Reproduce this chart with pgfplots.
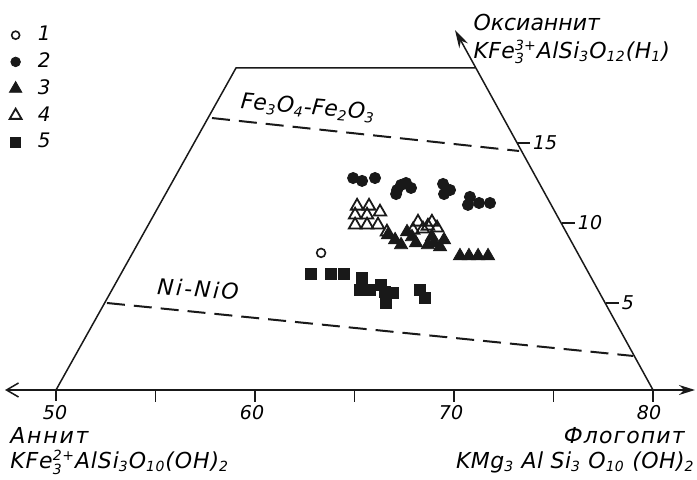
\documentclass[border=0pt]{standalone}
\usepackage{fontspec}
\setmainfont{DejaVu Sans}
\usepackage{pgfplots}
\pgfplotsset{compat=1.18}
\usetikzlibrary{arrows.meta}
\definecolor{ink}{gray}{0.1}
\newcommand{\chsub}[1]{$_{\hbox{\scriptsize #1}}$}
\newcommand{\chsubsup}[2]{$^{\hbox{\scriptsize #2}}_{\hbox{\scriptsize #1}}$}
\newcommand{\lab}{\fontsize{11}{13}\selectfont\itshape}
\newcommand{\wide}[1]{\addfontfeatures{LetterSpace=#1}}

\begin{document}
\begin{tikzpicture}
\begin{axis}[
  scale only axis, width=348.5pt, height=240pt,
  xmin=47.186, xmax=82.211, ymin=-6.0625, ymax=23.9375,
  axis lines=none, clip=false,
  every axis plot/.append style={ink},
  legend style={draw=none, fill=none, at={(rel axis cs:0,1)}, anchor=north west,
    xshift=4.5pt, yshift=-11pt, font=\fontsize{10}{12}\selectfont\itshape,
    row sep=0.5pt, inner sep=0pt,
    /tikz/every odd column/.append style={column sep=6pt}},
  legend cell align=left,
  legend image code/.code={\draw[#1] plot coordinates {(0pt,0pt)};},
]
\coordinate (bbSW) at (rel axis cs:0,0);
\coordinate (bbNE) at (rel axis cs:1,1);
% legend entries
\addlegendimage{only marks, ink, mark=o, mark size=2pt, line width=0.8pt}
\addlegendentry{1}
\addlegendimage{only marks, ink, mark=*, mark size=2.4pt}
\addlegendentry{2}
\addlegendimage{only marks, ink, mark=triangle*, mark size=3.6pt}
\addlegendentry{3}
\addlegendimage{only marks, ink, mark=triangle, mark size=3.4pt, line width=0.9pt}
\addlegendentry{4}
\addlegendimage{only marks, ink, mark=square*, mark size=2.5pt}
\addlegendentry{5}

% composition axis (mol. % phlogopite)
\addplot[forget plot, line width=0.75pt, {Straight Barb[length=6pt,width=7pt]}-{Stealth[length=8pt,width=5pt]}]
  coordinates {(47.44,-0.4375) (82.11,-0.4375)};
\addplot[forget plot, line width=0.75pt, unbounded coords=jump] coordinates {
  (50,-0.4375) (50,-1.1) (nan,nan)
  (55,-0.4375) (55,-1.2) (nan,nan)
  (60,-0.4375) (60,-1.2) (nan,nan)
  (65,-0.4375) (65,-1.2) (nan,nan)
  (70,-0.4375) (70,-1.2) (nan,nan)
  (75,-0.4375) (75,-1.2) (nan,nan)
  (80,-0.4375) (80,-1.2)};
\node[font=\fontsize{9.5}{11}\selectfont\itshape] at (axis cs:49.95,-1.85) {50};
\node[font=\fontsize{9.5}{11}\selectfont\itshape] at (axis cs:59.85,-1.85) {60};
\node[font=\fontsize{9.5}{11}\selectfont\itshape] at (axis cs:69.85,-1.85) {70};
\node[font=\fontsize{9.5}{11}\selectfont\itshape] at (axis cs:79.80,-1.85) {80};

% field outline
\addplot[forget plot, line width=0.75pt] coordinates {(50,-0.4375) (59.05,19.70) (71.06,19.70)};
\addplot[forget plot, line width=0.75pt, -{Stealth[length=9pt,width=5pt]}]
  coordinates {(80,-0.4375) (70.05,22.06)};

% Fe3+ scale on the right side
\addplot[forget plot, line width=0.75pt, unbounded coords=jump] coordinates {
  (73.17,15) (73.82,15) (nan,nan)
  (75.43,10) (76.08,10) (nan,nan)
  (77.64,5) (78.29,5)};
\node[font=\fontsize{9.5}{11}\selectfont\itshape, anchor=west, inner sep=1pt] at (axis cs:73.85,15) {15};
\node[font=\fontsize{9.5}{11}\selectfont\itshape, anchor=west, inner sep=1pt] at (axis cs:76.11,10) {10};
\node[font=\fontsize{9.5}{11}\selectfont\itshape, anchor=west, inner sep=1pt] at (axis cs:78.32,5) {5};

% oxygen buffers
\addplot[forget plot, line width=1pt, dash pattern=on 9pt off 4.5pt] coordinates {(57.84,16.56) (73.27,14.50)};
\addplot[forget plot, line width=1pt, dash pattern=on 9pt off 4.5pt] coordinates {(52.56,5.00) (79.00,1.69)};
\node[font=\lab, rotate=-5] at (axis cs:62.66,17.19) {Fe\chsub{3}O\chsub{4}-Fe\chsub{2}O\chsub{3}};
\node[font=\lab\wide{10}, rotate=-4] at (axis cs:57.14,5.88) {Ni-NiO};

% end members
\node[font=\lab, anchor=base west, inner sep=0pt] at (axis cs:70.96,22.06) {Оксианнит};
\node[font=\lab\wide{2}, anchor=base west, inner sep=0pt] at (axis cs:70.96,20.31) {KFe\chsubsup{3}{3+}AlSi\chsub{3}O\chsub{12}(H\chsub{1})};
\node[font=\lab\wide{8}, anchor=base west, inner sep=0pt] at (axis cs:47.69,-3.81) {Аннит};
\node[font=\lab\wide{4}, anchor=base west, inner sep=0pt] at (axis cs:47.69,-5.35) {KFe\chsubsup{3}{2+}AlSi\chsub{3}O\chsub{10}(OH)\chsub{2}};
\node[font=\lab\wide{5}, anchor=base east, inner sep=0pt] at (axis cs:81.61,-3.81) {Флогопит};
\node[font=\lab\wide{2}, anchor=base east, inner sep=0pt] at (axis cs:82.11,-5.35) {KMg\chsub{3} Al Si\chsub{3} O\chsub{10} (OH)\chsub{2}};

% 4
\addplot[forget plot, only marks, mark=triangle, mark size=3.6pt, line width=0.9pt] coordinates {
  (65.13,11.06) (65.73,11.06) (65.03,10.50) (65.63,10.50) (66.28,10.69)
  (65.03,9.88) (65.63,9.88) (66.18,9.88) (66.63,9.44)
  (68.19,10.06) (68.69,9.81) (67.94,9.56) (69.15,9.69) (68.89,10.06) (68.44,9.63)};
% 3
\addplot[forget plot, only marks, mark=triangle*, mark size=3.8pt] coordinates {
  (66.68,9.25) (67.04,8.94) (67.34,8.63) (67.64,9.44) (67.89,9.13) (68.09,8.75)
  (68.89,9.13) (69.00,8.75) (69.30,8.50) (68.69,8.63) (69.50,8.94)
  (70.30,7.94) (70.75,7.94) (71.21,7.94) (71.71,7.94)};
% 2
\addplot[forget plot, only marks, mark=*, mark size=2.8pt] coordinates {
  (64.93,12.81) (65.38,12.63) (66.03,12.81)
  (67.14,12.06) (67.34,12.38) (67.59,12.50) (67.84,12.19) (67.09,11.81)
  (69.45,12.44) (69.80,12.06) (69.50,11.81)
  (70.80,11.63) (70.70,11.13) (71.26,11.25) (71.81,11.25)};
% 1
\addplot[forget plot, only marks, mark=o, mark size=2.2pt, line width=0.8pt] coordinates {(63.32,8.13)};
% 5
\addplot[forget plot, only marks, mark=square*, mark size=2.7pt] coordinates {
  (62.81,6.81) (63.82,6.81) (64.47,6.81) (65.38,6.56) (65.28,5.81) (65.78,5.81)
  (66.33,6.13) (66.53,5.69) (66.94,5.63) (66.58,5.00) (68.29,5.81) (68.54,5.31)};
\end{axis}
\pgfresetboundingbox
\useasboundingbox (bbSW) rectangle (bbNE);
\end{tikzpicture}
\end{document}
